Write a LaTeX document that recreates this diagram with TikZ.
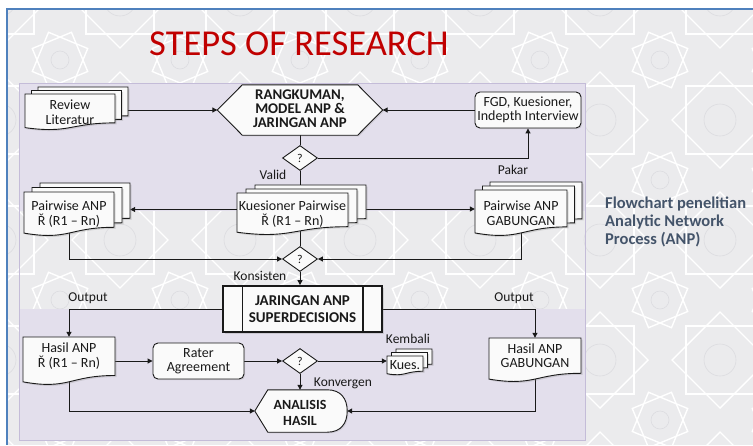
\documentclass[tikz,border=0pt]{standalone}
\usepackage{fontspec}
\setmainfont{Carlito}
\usetikzlibrary{arrows.meta,shapes.geometric,shadows,calc}

\definecolor{titlered}{RGB}{192,0,0}
\definecolor{panelfill}{RGB}{227,223,236}
\definecolor{paneledge}{RGB}{196,188,216}
\definecolor{patbg}{RGB}{235,235,237}
\definecolor{patdark}{RGB}{220,220,224}
\definecolor{slideblue}{RGB}{79,129,189}
\definecolor{inkc}{RGB}{25,25,25}
\definecolor{notec}{RGB}{68,84,106}
\definecolor{paperc}{RGB}{250,250,250}

\pgfdeclarelayer{backdrop}
\pgfdeclarelayer{wires}
\pgfdeclarelayer{shapes}
\pgfsetlayers{backdrop,wires,shapes,main}

\tikzset{
  wire/.style={draw=inkc, line width=1pt},
  arr/.style={-{Triangle[length=5pt,width=5pt]}},
  docsheet/.style={draw=inkc, line width=0.9pt, fill=paperc,
    drop shadow={shadow xshift=1.5pt, shadow yshift=-1.5pt, opacity=0.25}},
  docframe/.style={inner sep=0pt, draw=none},
  doctext/.style={align=center, font=\fontsize{14}{14.5}\selectfont, inner sep=0pt, text=inkc},
  boldtext/.style={align=center, font=\fontsize{14}{16}\selectfont\bfseries, inner sep=0pt, text=inkc},
  roundbox/.style={draw=inkc, line width=0.9pt, fill=paperc, rounded corners=5pt, align=center,
    font=\fontsize{14}{14.5}\selectfont, inner sep=0pt, text=inkc,
    drop shadow={shadow xshift=1.2pt, shadow yshift=-1.2pt, opacity=0.2}},
  qbox/.style={diamond, draw=inkc, line width=0.9pt, fill=paperc, minimum width=35pt,
    minimum height=25pt, inner sep=0pt, font=\fontsize{12}{13}\selectfont, text=inkc},
  lbl/.style={font=\fontsize{13.5}{14}\selectfont, inner sep=0pt, text=inkc},
  patline/.style={draw=white, line width=1.4pt},
  patthin/.style={draw=patdark, line width=0.6pt},
}

% one sheet of a document symbol: top-left (x1,y1), bottom-right (x2,y2), wavy bottom
\newcommand{\sheet}[4]{%
  \pgfmathsetmacro\dcXa{#1}\pgfmathsetmacro\dcYa{#2}%
  \pgfmathsetmacro\dcXb{#3}\pgfmathsetmacro\dcYb{#4}%
  \pgfmathsetmacro\dcH{\dcYb-\dcYa}\pgfmathsetmacro\dcXm{(\dcXa+\dcXb)/2}%
  \filldraw[docsheet] (\dcXa,\dcYa) -- (\dcXb,\dcYa) -- (\dcXb,\dcYa+0.802*\dcH)
    .. controls (\dcXm,\dcYa+0.802*\dcH) and (\dcXm,\dcYa+1.108*\dcH) .. (\dcXa,\dcYa+0.934*\dcH) -- cycle;}

% stacked documents: name, front sheet x1 y1 x2 y2, offset dx dy, text
\newcommand{\multidoc}[8]{%
  \begin{pgfonlayer}{shapes}
    \sheet{(#2)+2*(#6)}{(#3)-2*(#7)}{(#4)+2*(#6)}{(#5)-2*(#7)}%
    \sheet{(#2)+(#6)}{(#3)-(#7)}{(#4)+(#6)}{(#5)-(#7)}%
    \sheet{#2}{#3}{#4}{#5}%
  \end{pgfonlayer}
  \pgfmathsetmacro\mdW{(#4)+2*(#6)-(#2)}%
  \pgfmathsetmacro\mdH{(#5)-(#3)+2*(#7)}%
  \pgfmathsetmacro\mdX{((#2)+(#4)+2*(#6))/2}%
  \pgfmathsetmacro\mdY{((#3)-2*(#7)+(#5))/2}%
  \pgfmathsetmacro\mdTx{((#2)+(#4))/2}%
  \pgfmathsetmacro\mdTy{(#3)+0.5*((#5)-(#3))}%
  \node[docframe, minimum width=\mdW pt, minimum height=\mdH pt] (#1) at (\mdX,\mdY) {};
  \node[doctext] (#1-t) at (\mdTx,\mdTy) {#8};}

% single document: name, x1 y1 x2 y2, text
\newcommand{\singledoc}[6]{%
  \begin{pgfonlayer}{shapes}\sheet{#2}{#3}{#4}{#5}\end{pgfonlayer}
  \pgfmathsetmacro\mdW{(#4)-(#2)}%
  \pgfmathsetmacro\mdH{(#5)-(#3)}%
  \pgfmathsetmacro\mdX{((#2)+(#4))/2}%
  \pgfmathsetmacro\mdY{((#3)+(#5))/2}%
  \pgfmathsetmacro\mdTy{(#3)+0.4*((#5)-(#3))}%
  \node[docframe, minimum width=\mdW pt, minimum height=\mdH pt] (#1) at (\mdX,\mdY) {};
  \node[doctext] (#1-t) at (\mdX,\mdTy) {#6};}

\begin{document}
\begin{tikzpicture}[x=1pt, y=-1pt]
\useasboundingbox (0,0) rectangle (753,445);

% ---------- slide background ----------
\begin{pgfonlayer}{backdrop}
  \fill[white] (0,0) rectangle (753,445);
  \begin{scope}
    \clip (7,9) rectangle (753,445);
    \fill[patbg] (7,9) rectangle (753,445);
    \foreach \px in {0,120,...,840} {
      \foreach \py in {0,120,...,480} {
        \draw[patline] (\px,\py) +(0:48) -- +(90:48) -- +(180:48) -- +(270:48) -- cycle;
        \draw[patline] (\px,\py) +(45:48) -- +(135:48) -- +(225:48) -- +(315:48) -- cycle;
        \draw[patthin] (\px,\py) circle (16);
        \draw[patline] (\px+60,\py+60) +(22.5:30) -- +(112.5:30) -- +(202.5:30) -- +(292.5:30) -- cycle;
        \draw[patline] (\px+60,\py+60) +(67.5:30) -- +(157.5:30) -- +(247.5:30) -- +(337.5:30) -- cycle;
        \draw[patthin] (\px+60,\py+60) circle (9);
      }
    }
  \end{scope}
  \draw[slideblue, line width=1.5pt] (753,9) -- (7,9) -- (7,445);
  % the two lavender working panels
  \fill[panelfill] (19,83) rectangle (585,211);
  \fill[panelfill] (19,309) rectangle (585,440);
  \draw[paneledge, line width=0.8pt] (19,83) rectangle (585,440);
\end{pgfonlayer}

% ---------- title and side note ----------
\node[font=\fontsize{36.5}{40}\selectfont, text=titlered, inner sep=0pt] (title) at (299,44) {STEPS OF RESEARCH};
\node[anchor=west, align=left, inner sep=0pt, text=notec, font=\fontsize{16.5}{18}\selectfont\bfseries]
  (note) at (605,222) {Flowchart penelitian\\Analytic Network\\Process (ANP)};

% ---------- upper panel ----------
\multidoc{rev}{25}{94}{115}{130}{6.5}{3.5}{Review\\Literatur}

\node[docframe, minimum width=165pt, minimum height=50pt] (rang) at (300,110) {};
\begin{pgfonlayer}{shapes}
  \filldraw[draw=inkc, line width=0.9pt, fill=paperc,
      drop shadow={shadow xshift=1.2pt, shadow yshift=-1.2pt, opacity=0.2}]
    (rang.west) -- ([xshift=25pt]rang.north west) -- ([xshift=-25pt]rang.north east)
    -- (rang.east) -- ([xshift=-25pt]rang.south east) -- ([xshift=25pt]rang.south west) -- cycle;
\end{pgfonlayer}
\node[boldtext, font=\fontsize{14.8}{14}\selectfont\bfseries] (rang-t) at (300,109) {RANGKUMAN,\\MODEL ANP \&\\JARINGAN ANP};

\node[roundbox, minimum width=106pt, minimum height=36pt] (fgd) at (528,110) {FGD, Kuesioner,\\Indepth Interview};

\node[qbox] (dia1) at (300,158) {?};

\multidoc{kp}{237}{193}{348}{235}{9}{4}{Kuesioner Pairwise\\Ř (R1 – Rn)}
\multidoc{pwl}{24}{192}{114}{236}{8}{4.5}{Pairwise ANP\\Ř (R1 – Rn)}
\multidoc{pwg}{475}{190}{567}{236}{7.5}{4}{Pairwise ANP\\GABUNGAN}

\node[qbox] (dia2) at (300,259) {?};

% ---------- network model ----------
\node[draw=inkc, line width=1.8pt, fill=paperc, minimum width=159pt, minimum height=46pt,
      inner sep=0pt, align=center, font=\fontsize{15}{17}\selectfont\bfseries, text=inkc,
      drop shadow={shadow xshift=1.5pt, shadow yshift=-1.5pt, opacity=0.25}]
  (jar) at (302.5,309) {JARINGAN ANP\\SUPERDECISIONS};
\draw[inkc, line width=1.2pt] ([xshift=20pt]jar.north west) -- ([xshift=20pt]jar.south west);
\draw[inkc, line width=1.2pt] ([xshift=-20pt]jar.north east) -- ([xshift=-20pt]jar.south east);

% ---------- lower panel ----------
\singledoc{hasl}{23}{337}{115}{385}{Hasil ANP\\Ř (R1 – Rn)}
\singledoc{hasg}{489}{338}{581}{382}{Hasil ANP\\GABUNGAN}

\node[roundbox, minimum width=91pt, minimum height=36pt] (rater) at (198.5,361) {Rater\\Agreement};
\node[qbox] (dia3) at (300,361) {?};
\multidoc{kues}{387}{356}{423}{375}{4.5}{3.5}{Kues.}

\node[docframe, minimum width=92pt, minimum height=42pt] (ana) at (301,411) {};
\begin{pgfonlayer}{shapes}
  \filldraw[draw=inkc, line width=0.9pt, fill=paperc,
      drop shadow={shadow xshift=1.2pt, shadow yshift=-1.2pt, opacity=0.2}]
    (ana.west) -- ($(ana.north west)+(13,0)$) -- ($(ana.north east)+(-20,0)$)
    .. controls ($(ana.north east)+(-6,0)$) and ($(ana.east)+(0,-12)$) .. (ana.east)
    .. controls ($(ana.east)+(0,12)$) and ($(ana.south east)+(-6,0)$) .. ($(ana.south east)+(-20,0)$)
    -- ($(ana.south west)+(13,0)$) -- cycle;
\end{pgfonlayer}
\node[boldtext] (ana-t) at (300,413) {ANALISIS\\HASIL};

% ---------- connector labels ----------
\node[lbl] (lvalid) at (273,175) {Valid};
\node[lbl] (lpakar) at (513,170) {Pakar};
\node[lbl] (lkons) at (260,276) {Konsisten};
\node[lbl] (lout1) at (88,298) {Output};
\node[lbl] (lout2) at (514,298) {Output};
\node[lbl] (lkemb) at (408,339) {Kembali};
\node[lbl] (lkonv) at (343,383) {Konvergen};

% ---------- connectors ----------
\begin{pgfonlayer}{wires}
  \draw[wire, arr] (rev.east |- rang.west) -- (rang.west);
  \draw[wire, arr] (fgd.west) -- (rang.east);
  \draw[wire] (rang.south) -- (dia1.north);
  \draw[wire, arr] (dia1.east) -| (fgd.south);
  \draw[wire] (dia1.south) -- (dia1.south |- kp.north);
  \draw[wire, arr] (kp-t |- pwl.east) -- (pwl.east);
  \draw[wire, arr] (kp-t |- pwg.west) -- (pwg.west);
  \draw[wire] (dia2.north |- kp-t) -- (dia2.north);
  \draw[wire, arr] (pwl-t) |- (dia2.west);
  \draw[wire, arr] (pwg-t) |- (dia2.east);
  \draw[wire, arr] (dia2.south) -- (dia2.south |- jar.north);
  \draw[wire, arr] (jar.west) -| (hasl.north);
  \draw[wire, arr] (jar.east) -| (hasg.north);
  \draw[wire, arr] (hasl.east |- rater.west) -- (rater.west);
  \draw[wire, arr] (rater.east) -- (dia3.west);
  \draw[wire, arr] (dia3.east) -- (dia3.east -| kues.west);
  \draw[wire, arr] (dia3.south) -- (dia3.south |- ana.north);
  \draw[wire, arr] (hasl-t) |- (ana.west);
  \draw[wire, arr] (hasg-t) |- (ana.east);
\end{pgfonlayer}
\end{tikzpicture}
\end{document}
